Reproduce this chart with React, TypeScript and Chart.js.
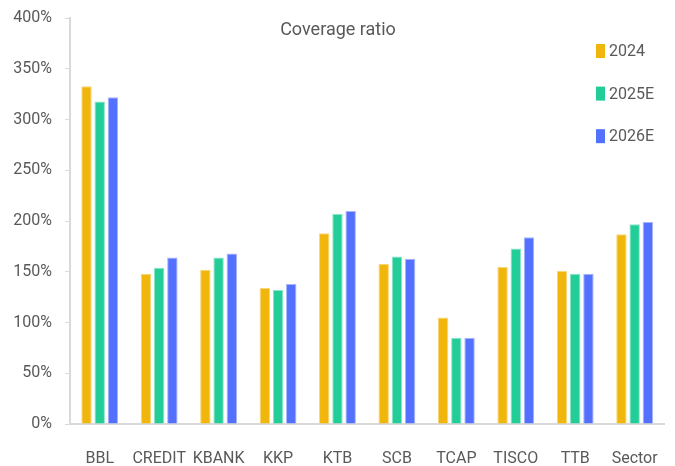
import React, { useEffect, useRef } from "react";
import { Chart, registerables } from "chart.js";

Chart.register(...registerables);

const categories = ["BBL", "CREDIT", "KBANK", "KKP", "KTB", "SCB", "TCAP", "TISCO", "TTB", "Sector"];
const seriesNames = ["2024", "2025E", "2026E"];
const values2024 = [333, 148, 152, 134, 188, 158, 105, 155, 151, 187];
const values2025E = [318, 154, 164, 132, 207, 165, 85, 173, 148, 197];
const values2026E = [322, 164, 168, 138, 210, 163, 85, 184, 148, 199];
const yTicks = [0, 50, 100, 150, 200, 250, 300, 350, 400];
const titleText = "Coverage ratio";

const colors = ["#F1B60B", "#22CD97", "#5470FE"];
const borders = ["#F7D77A", "#8DE5C8", "#A6B5FE"];
const FONT = "Roboto, 'Liberation Sans', sans-serif";
const TEXT = "#595959";

const overlayPlugin = {
  id: "overlay",
  afterDraw(chart: any) {
    const ctx = chart.ctx;
    ctx.save();
    ctx.fillStyle = TEXT;
    ctx.font = `18px ${FONT}`;
    ctx.textAlign = "center";
    ctx.textBaseline = "middle";
    ctx.fillText(titleText, 338, 30);
    ctx.font = `16px ${FONT}`;
    ctx.textAlign = "left";
    chart.data.datasets.forEach((ds: any, i: number) => {
      const cy = 51 + i * 42.6;
      ctx.fillStyle = ds.backgroundColor;
      ctx.fillRect(596, cy - 7, 9, 14);
      ctx.fillStyle = TEXT;
      ctx.fillText(ds.label, 609, cy + 1);
    });
    ctx.restore();
  },
};

export default function App() {
  const ref = useRef<HTMLCanvasElement>(null);
  useEffect(() => {
    document.body.style.margin = "0";
    const allValues = [values2024, values2025E, values2026E];
    const chart = new Chart(ref.current!, {
      type: "bar",
      data: {
        labels: categories,
        datasets: seriesNames.map((name, i) => ({
          label: name,
          data: allValues[i],
          backgroundColor: colors[i],
          borderColor: borders[i],
          borderWidth: 1,
          categoryPercentage: 0.667,
          barPercentage: 0.79,
        })),
      },
      options: {
        animation: false,
        responsive: false,
        maintainAspectRatio: false,
        layout: { padding: { top: 0, right: 7, left: 0, bottom: 0 } },
        plugins: {
          legend: { display: false },
          title: { display: false },
          tooltip: { enabled: false },
        },
        scales: {
          x: {
            grid: { display: false },
            border: { display: true, color: "#D9D9D9", width: 2 },
            ticks: { color: TEXT, font: { family: FONT, size: 16 }, padding: 17, maxRotation: 0, autoSkip: false },
            afterFit: (s: any) => { s.height = 42; },
          },
          y: {
            min: 0,
            max: 400,
            afterBuildTicks: (s: any) => { s.ticks = yTicks.map((v) => ({ value: v })); },
            grid: { drawOnChartArea: false, drawTicks: true, tickLength: 5, color: "#D9D9D9", lineWidth: 1 },
            border: { display: true, color: "#D9D9D9", width: 2 },
            ticks: {
              color: TEXT,
              font: { family: FONT, size: 16, lineHeight: 0.65 },
              padding: 13,
              callback: (v: any) => `${v}%`,
            },
            afterFit: (s: any) => { s.width = 70; },
          },
        },
      },
      plugins: [overlayPlugin],
    });
    return () => chart.destroy();
  }, []);
  return (
    <div style={{ width: 675, height: 466 }}>
      <canvas ref={ref} width={675} height={466} style={{ display: "block" }} />
    </div>
  );
}
